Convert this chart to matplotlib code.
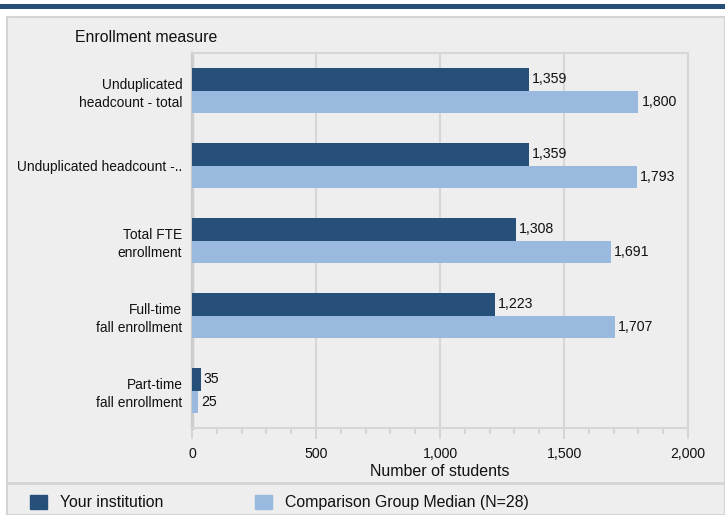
import numpy as np
import matplotlib
matplotlib.use("Agg")
import matplotlib.pyplot as plt
from matplotlib.patches import Rectangle
from matplotlib.lines import Line2D
from matplotlib.ticker import MultipleLocator, FuncFormatter

plt.rcParams['font.family'] = ['Liberation Sans', 'DejaVu Sans']

# data
categories = ["Unduplicated\nheadcount - total", "Unduplicated headcount -..",
              "Total FTE\nenrollment", "Full-time\nfall enrollment",
              "Part-time\nfall enrollment"]
your_institution = [1359, 1359, 1308, 1223, 35]
comparison_median = [1800, 1793, 1691, 1707, 25]
series_names = ["Your institution", "Comparison Group Median (N=28)"]

dark = "#264f7a"
light = "#9ab9de"
panel = "#eeeeee"
edge = "#d4d4d4"
txt = "#111111"

W, H = 725, 515
fig = plt.figure(figsize=(W / 100, H / 100), dpi=100)
fig.patch.set_facecolor("white")

def fx(px):
    return px / W

def fy(py):
    return 1 - py / H

# background panel, top band and legend separator
fig.add_artist(Rectangle((fx(7), 0), 1 - fx(7), fy(17), transform=fig.transFigure,
                         facecolor=panel, edgecolor=edge, lw=1.5, zorder=0))
fig.add_artist(Rectangle((0, fy(8.5)), 1, fy(4) - fy(8.5), transform=fig.transFigure,
                         facecolor=dark, edgecolor="none", zorder=1))
fig.add_artist(Line2D([fx(8), 1], [fy(483), fy(483)], transform=fig.transFigure,
                      color=edge, lw=2, zorder=1))

ax = fig.add_axes([fx(192), fy(428), fx(688) - fx(192), fy(53) - fy(428)])
ax.set_facecolor(panel)

y = np.arange(len(categories))
h = 0.3
ax.barh(y - h / 2, your_institution, height=h, color=dark, zorder=3)
ax.barh(y + h / 2, comparison_median, height=h, color=light, zorder=3)

for i in range(len(categories)):
    ax.text(your_institution[i] + 12, y[i] - h / 2, f"{your_institution[i]:,}",
            va="center", ha="left", fontsize=10.2, color=txt, zorder=4)
    ax.text(comparison_median[i] + 12, y[i] + h / 2, f"{comparison_median[i]:,}",
            va="center", ha="left", fontsize=10.2, color=txt, zorder=4)

ax.set_xlim(0, 2000)
ax.set_ylim(len(categories) - 0.5, -0.5)
ax.set_yticks(y)
ax.set_yticklabels(categories, fontsize=9.9, color=txt, linespacing=1.35)
ax.xaxis.set_major_locator(MultipleLocator(500))
ax.xaxis.set_minor_locator(MultipleLocator(100))
ax.xaxis.set_major_formatter(FuncFormatter(lambda v, p: f"{int(v):,}"))
ax.tick_params(axis="x", which="major", length=8, width=1.2, color="#d0d0d0",
               labelsize=10.2, labelcolor=txt, pad=6)
ax.tick_params(axis="x", which="minor", length=4, width=1.2, color="#d0d0d0")
ax.tick_params(axis="y", length=0, pad=7)
ax.grid(axis="x", which="major", color="#d6d6d6", lw=1.5, zorder=1)
ax.set_axisbelow(True)
for s in ["top", "right", "bottom"]:
    ax.spines[s].set_color("#d6d6d6")
    ax.spines[s].set_linewidth(1.5)
ax.spines["left"].set_color("#cdcdcd")
ax.spines["left"].set_linewidth(2.5)

ax.set_xlabel("Number of students", fontsize=11.5, color=txt, labelpad=2)
fig.text(fx(75), fy(38), "Enrollment measure", fontsize=11.4, color=txt,
         va="center", ha="left")

# legend
handles = [Rectangle((0, 0), 1, 1, color=dark), Rectangle((0, 0), 1, 1, color=light)]
leg = fig.legend(handles, series_names, loc="center left", ncol=2,
                 bbox_to_anchor=(fx(24), fy(502.5)), frameon=False, fontsize=11.4,
                 handlelength=1.07, handleheight=1.07, handletextpad=0.8,
                 columnspacing=5.8, borderaxespad=0)
for t in leg.get_texts():
    t.set_color(txt)

fig.savefig("out.png", dpi=100, facecolor=fig.get_facecolor())
